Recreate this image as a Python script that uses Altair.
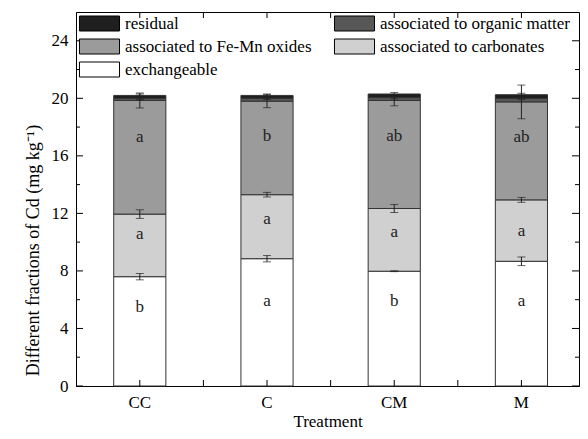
import altair as alt
import pandas as pd

# ---- data ----
treatments = ["CC", "C", "CM", "M"]
fractions = ["residual", "associated to organic matter", "associated to Fe-Mn oxides",
             "associated to carbonates", "exchangeable"]
colors = ["#1f1f1f", "#575757", "#9b9b9b", "#d0d0d0", "#ffffff"]

exchangeable = [7.60, 8.85, 7.98, 8.67]
carbonates = [4.35, 4.45, 4.36, 4.27]
fe_mn = [7.90, 6.50, 7.51, 6.81]
organic = [0.15, 0.20, 0.20, 0.25]
residual = [0.20, 0.20, 0.25, 0.25]

err_exch = [0.22, 0.22, 0.03, 0.30]
err_carb = [0.30, 0.16, 0.28, 0.17]
err_femn = [0.52, 0.45, 0.37, 1.17]
err_org = [0.08, 0.08, 0.08, 0.08]
err_res = [0.10, 0.10, 0.10, 0.10]

letters_exch = ["b", "a", "b", "a"]
letters_carb = ["a", "a", "a", "a"]
letters_femn = ["a", "b", "ab", "ab"]
letter_y_exch = [5.5, 5.9, 5.9, 5.9]
letter_y_carb = [10.6, 11.6, 10.7, 10.8]
letter_y_femn = [17.3, 17.4, 17.4, 17.3]

y_major = [0, 4, 8, 12, 16, 20, 24]
y_minor = [2, 6, 10, 14, 18, 22]
x_tick_pos = [0.5, 1, 1.5, 2, 2.5, 3, 3.5]

W, H = 503, 374
FONT = "Liberation Serif"

# band scale settings
P_IN, P_OUT, ALIGN = 0.59, 0.272, 0.545
n = len(treatments)
step = W / (n - P_IN + 2 * P_OUT)
left_outer = ALIGN * (2 * P_OUT * step)
bw = (1 - P_IN) * step
v0 = 0.5 - (left_outer + bw / 2) / step
tick_domain = [v0, v0 + W / step]

# ---- build tables ----
stack_order = ["exchangeable", "associated to carbonates", "associated to Fe-Mn oxides",
               "associated to organic matter", "residual"]
series = {
    "exchangeable": (exchangeable, err_exch),
    "associated to carbonates": (carbonates, err_carb),
    "associated to Fe-Mn oxides": (fe_mn, err_femn),
    "associated to organic matter": (organic, err_org),
    "residual": (residual, err_res),
}
rows = []
for i, t in enumerate(treatments):
    base = 0.0
    for f in stack_order:
        v = series[f][0][i]
        e = series[f][1][i]
        rows.append({"Treatment": t, "fraction": f, "y0": base, "y1": base + v,
                     "lo": base + v - e, "hi": base + v + e})
        base += v
df = pd.DataFrame(rows)

lab_rows = []
for i, t in enumerate(treatments):
    lab_rows.append({"Treatment": t, "y": letter_y_exch[i], "txt": letters_exch[i]})
    lab_rows.append({"Treatment": t, "y": letter_y_carb[i], "txt": letters_carb[i]})
    lab_rows.append({"Treatment": t, "y": letter_y_femn[i], "txt": letters_femn[i]})
labs = pd.DataFrame(lab_rows)

yscale = alt.Scale(domain=[0, 26], nice=False, zero=True)
xscale = alt.Scale(paddingInner=P_IN, paddingOuter=P_OUT, align=ALIGN)

x_enc = alt.X("Treatment:N", sort=treatments, scale=xscale,
              axis=alt.Axis(title="Treatment", labelAngle=0, ticks=False, domain=True,
                            domainColor="black", labelFont=FONT, labelFontSize=17,
                            labelColor="black", labelPadding=8, titleFont=FONT,
                            titleFontSize=17, titleFontWeight="normal", titleColor="black",
                            titlePadding=3))

bars = alt.Chart(df).mark_bar(stroke="#333333", strokeWidth=1, opacity=1).encode(
    x=x_enc,
    y=alt.Y("y0:Q", scale=yscale,
            axis=alt.Axis(values=y_major, ticks=False, grid=False, domainColor="black",
                          labelFont=FONT, labelFontSize=17, labelColor="black",
                          labelPadding=8,
                          title="Different fractions of Cd (mg kg\u207b\u00b9)",
                          titleFont=FONT, titleFontSize=18, titleFontWeight="normal",
                          titleColor="black", titlePadding=9, titleY=238)),
    y2="y1:Q",
    color=alt.Color("fraction:N", scale=alt.Scale(domain=fractions, range=colors),
                    legend=alt.Legend(title=None, orient="none", legendX=15, legendY=3,
                                      columns=2, direction="horizontal", padding=0,
                                      symbolType="M-2.67,-1H2.67V1H-2.67Z",
                                      symbolSize=225, symbolStrokeColor="black",
                                      symbolStrokeWidth=1, symbolOpacity=1,
                                      labelFont=FONT, labelFontSize=17,
                                      labelColor="black", labelOffset=17,
                                      labelLimit=0, rowPadding=4, columnPadding=20)),
)

err = alt.Chart(df).mark_rule(color="#222222", strokeWidth=1).encode(
    x=alt.X("Treatment:N", sort=treatments, scale=xscale),
    y=alt.Y("lo:Q", scale=yscale), y2="hi:Q")
cap_lo = alt.Chart(df).mark_tick(color="#222222", thickness=1, size=8).encode(
    x=alt.X("Treatment:N", sort=treatments, scale=xscale),
    y=alt.Y("lo:Q", scale=yscale))
cap_hi = alt.Chart(df).mark_tick(color="#222222", thickness=1, size=8).encode(
    x=alt.X("Treatment:N", sort=treatments, scale=xscale),
    y=alt.Y("hi:Q", scale=yscale))

text = alt.Chart(labs).mark_text(font=FONT, fontSize=17, color="#222222",
                                 baseline="middle").encode(
    x=alt.X("Treatment:N", sort=treatments, scale=xscale),
    y=alt.Y("y:Q", scale=yscale), text="txt:N")

ymaj = pd.DataFrame({"v": y_major})
ymin = pd.DataFrame({"v": y_minor})
ytick_l = alt.Chart(ymaj).mark_rule(color="black").encode(
    y=alt.Y("v:Q", scale=yscale), x=alt.value(0), x2=alt.value(7))
ytick_r = alt.Chart(ymaj).mark_rule(color="black").encode(
    y=alt.Y("v:Q", scale=yscale), x=alt.value(W - 7), x2=alt.value(W))
ytickm_l = alt.Chart(ymin).mark_rule(color="black").encode(
    y=alt.Y("v:Q", scale=yscale), x=alt.value(0), x2=alt.value(4))
ytickm_r = alt.Chart(ymin).mark_rule(color="black").encode(
    y=alt.Y("v:Q", scale=yscale), x=alt.value(W - 4), x2=alt.value(W))

main = alt.layer(bars, err, cap_lo, cap_hi, text, ytick_l, ytick_r, ytickm_l, ytickm_r)

xt = pd.DataFrame({"p": x_tick_pos})
xs = alt.Scale(domain=tick_domain, nice=False, zero=False)
xtick_b = alt.Chart(xt).mark_rule(color="black").encode(
    x=alt.X("p:Q", scale=xs, axis=None), y=alt.value(H - 6), y2=alt.value(H))
xtick_t = alt.Chart(xt).mark_rule(color="black").encode(
    x=alt.X("p:Q", scale=xs, axis=None), y=alt.value(0), y2=alt.value(6))
ticks = alt.layer(xtick_b, xtick_t)

chart = alt.layer(main, ticks).resolve_scale(x="independent").properties(
    width=W, height=H,
    autosize=alt.AutoSizeParams(type="none"),
    padding={"left": 68, "top": 4, "right": 1, "bottom": 45},
    background="white",
).configure(font=FONT
).configure_view(stroke="black", strokeWidth=1
).configure_legend(labelFont=FONT, labelFontSize=17, labelColor="black")

chart.save("out.html", embed_options={"renderer": "svg", "actions": False})
